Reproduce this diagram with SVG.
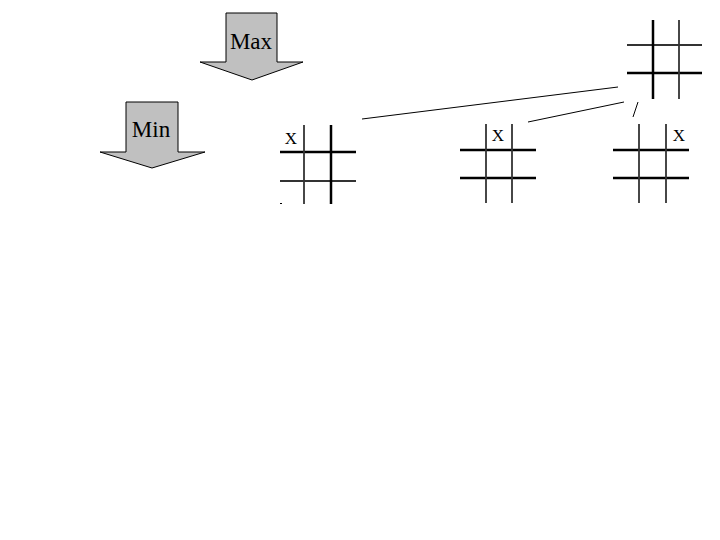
<svg xmlns="http://www.w3.org/2000/svg" width="720" height="540" viewBox="0 0 720 540">
<style>
.arrow{fill:#c0c0c0;stroke:#000;stroke-width:1}
.lbl{font-family:"Liberation Serif",serif;font-size:23px;fill:#000}
.x{font-family:"Liberation Serif",serif;font-size:17px;fill:#000}
.thick{stroke:#000;stroke-width:2.5}
.thin{stroke:#333;stroke-width:1.8}
.conn{stroke:#000;stroke-width:1;fill:none}
</style>
<rect width="720" height="540" fill="#fff"/>
<g id="max">
<polygon class="arrow" points="226,13 277,13 277,62 303,62 252,80 200,62 226,62"/>
<text class="lbl" x="251" y="49" text-anchor="middle">Max</text>
</g>
<g id="min">
<polygon class="arrow" points="126,102 178,102 178,152 205,152 152,168 100,152 126,152"/>
<text class="lbl" x="151" y="137" text-anchor="middle">Min</text>
</g>
<g id="root">
<line class="thin" x1="627" y1="45" x2="702" y2="45"/>
<line class="thick" x1="627" y1="73" x2="702" y2="73"/>
<line class="thick" x1="653" y1="20" x2="653" y2="99"/>
<line class="thin" x1="679" y1="20" x2="679" y2="99"/>
</g>
<g id="board1">
<line class="thick" x1="280" y1="152" x2="356" y2="152"/>
<line class="thin" x1="280" y1="181" x2="356" y2="181"/>
<line class="thin" x1="304" y1="125" x2="304" y2="204"/>
<line class="thick" x1="331" y1="125" x2="331" y2="204"/>
<text class="x" x="291" y="144" text-anchor="middle">X</text>
<line class="conn" x1="280" y1="203.5" x2="282" y2="203.5"/>
</g>
<g id="board2">
<line class="thick" x1="460" y1="150" x2="536" y2="150"/>
<line class="thick" x1="460" y1="178" x2="536" y2="178"/>
<line class="thin" x1="486" y1="124" x2="486" y2="203"/>
<line class="thin" x1="512" y1="124" x2="512" y2="203"/>
<text class="x" x="498" y="141" text-anchor="middle">X</text>
</g>
<g id="board3">
<line class="thick" x1="613" y1="150" x2="689" y2="150"/>
<line class="thick" x1="613" y1="178" x2="689" y2="178"/>
<line class="thin" x1="639" y1="124" x2="639" y2="203"/>
<line class="thin" x1="666" y1="124" x2="666" y2="203"/>
<text class="x" x="679" y="141" text-anchor="middle">X</text>
</g>
<g id="connectors">
<line class="conn" x1="618" y1="87" x2="362" y2="119"/>
<line class="conn" x1="624" y1="102" x2="528" y2="122"/>
<line class="conn" x1="638" y1="102" x2="633" y2="117"/>
</g>
</svg>
